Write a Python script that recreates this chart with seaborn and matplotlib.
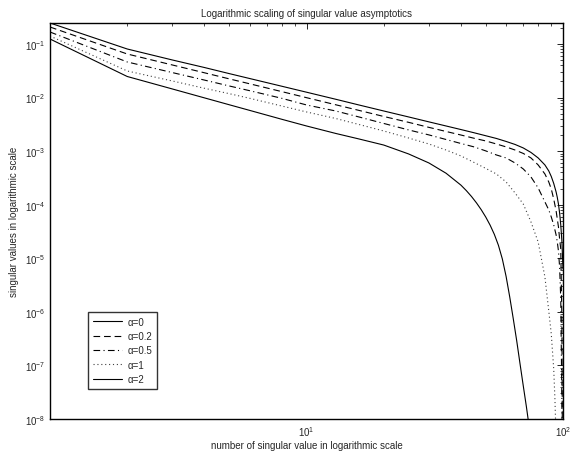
import numpy as np
import pandas as pd
import matplotlib
matplotlib.use("Agg")
import matplotlib.pyplot as plt
from matplotlib.ticker import NullFormatter, FixedLocator, FixedFormatter
import seaborn as sns

# ---- data ----
x_a0 = [1, 2, 3, 4, 5, 6, 8, 10, 13, 16, 20, 25, 30, 35, 40, 45, 50, 55, 60, 65, 70, 75,
        80, 85, 88, 90, 92, 94, 95, 96, 97, 98, 99, 100]
y_a0 = [0.2466, 0.0807, 0.0503, 0.0364, 0.0280, 0.0227, 0.0163, 0.0126, 0.0093, 0.00728,
        0.00562, 0.00435, 0.00352, 0.00295, 0.00253, 0.002204, 0.001938, 0.001725,
        0.001517, 0.001334, 0.001147, 0.000946, 0.000747, 0.000553, 0.000427, 0.000337,
        0.000250, 0.000173, 0.000137, 0.000103, 7.03e-5, 4.20e-5, 2.11e-5, 6.34e-6]

x_a02 = x_a0
y_a02 = [0.2076, 0.0651, 0.04058, 0.02902, 0.02233, 0.01809, 0.01294, 0.00996, 0.00734,
         0.00577, 0.00444, 0.00345, 0.00278, 0.00233, 0.00200, 0.00174, 0.00155, 0.00136,
         0.00120, 0.00105, 0.000906, 0.000747, 0.000553, 0.000375, 0.000266, 0.000197,
         0.000128, 7.66e-5, 5.43e-5, 3.85e-5, 2.30e-5, 1.50e-5, 7.4e-7, 4.5e-12]

x_a05 = x_a0
y_a05 = [0.1675, 0.0462, 0.02927, 0.02121, 0.01646, 0.01345, 0.00970, 0.00728, 0.00562,
         0.00435, 0.00329, 0.00249, 0.00201, 0.00165, 0.00139, 0.00120, 0.00101, 0.000849,
         0.000747, 0.000602, 0.000465, 0.000330, 0.000206, 0.000113, 8.0e-5, 5.92e-5,
         4.20e-5, 2.73e-5, 2.02e-5, 1.37e-5, 6.91e-6, 1.75e-6, 2.38e-8, 4.5e-12]

x_a1 = [1, 2, 3, 4, 5, 6, 8, 10, 13, 16, 20, 25, 30, 35, 40, 45, 50, 55, 60, 65, 70, 75,
        80, 85, 88, 90, 92, 93, 94, 95]
y_a1 = [0.1410, 0.03135, 0.02040, 0.01491, 0.01182, 0.00970, 0.00697, 0.00539, 0.00407,
        0.00315, 0.00238, 0.00176, 0.00136, 0.00105, 0.000814, 0.000615, 0.000476,
        0.000375, 0.000266, 0.000166, 0.000103, 4.78e-5, 2.02e-5, 4.50e-6, 1.04e-6,
        3.89e-7, 8.64e-8, 2.38e-8, 4.27e-9, 1.37e-10]

x_a2 = [1, 2, 3, 4, 5, 6, 8, 10, 13, 16, 20, 25, 30, 35, 40, 42, 44, 46, 48, 50, 52, 54,
        56, 58, 60, 62, 64, 66, 68, 70, 72, 74]
y_a2 = [0.1240, 0.02475, 0.01447, 0.00987, 0.00734, 0.00577, 0.00394, 0.00295, 0.00214,
        0.00169, 0.00130, 8.87e-4, 6.02e-4, 3.87e-4, 2.32e-4, 1.83e-4, 1.42e-4,
        1.08e-4, 8.06e-5, 5.87e-5, 4.14e-5, 2.79e-5, 1.75e-5, 9.74e-6, 4.59e-6, 1.89e-6,
        7.40e-7, 2.88e-7, 1.07e-7, 4.16e-8, 1.69e-8, 6.56e-9]

labels = ["α=0", "α=0.2", "α=0.5", "α=1", "α=2"]
series_x = [x_a0, x_a02, x_a05, x_a1, x_a2]
series_y = [y_a0, y_a02, y_a05, y_a1, y_a2]

xtick_vals = [10, 100]
xtick_labels = [r"$10^{1}$", r"$10^{2}$"]
ytick_vals = [1e-8, 1e-7, 1e-6, 1e-5, 1e-4, 1e-3, 1e-2, 1e-1]
ytick_labels = [r"$10^{-8}$", r"$10^{-7}$", r"$10^{-6}$", r"$10^{-5}$",
                r"$10^{-4}$", r"$10^{-3}$", r"$10^{-2}$", r"$10^{-1}$"]

title = "Logarithmic scaling of singular value asymptotics"
xlabel = "number of singular value in logarithmic scale"
ylabel = "singular values in logarithmic scale"

# ---- styling ----
sns.set_style("white")
plt.rcParams["font.family"] = ["Liberation Sans", "DejaVu Sans"]
plt.rcParams["font.size"] = 7
plt.rcParams["mathtext.fontset"] = "custom"
plt.rcParams["mathtext.rm"] = "Liberation Sans"
plt.rcParams["mathtext.it"] = "Liberation Sans"

styles = ["-", (0, (6, 3.5)), (0, (6, 3, 1, 3)), (0, (1, 2.5)), "-"]
colors = ["black", "black", "black", "0.25", "black"]

fig = plt.figure(figsize=(5.78, 4.56), dpi=100)
ax = fig.add_axes([50 / 578, 36 / 456, 513 / 578, 396 / 456])
ax.set_xscale("log")
ax.set_yscale("log")

for lab, xs, ys, ls, c in zip(labels, series_x, series_y, styles, colors):
    df = pd.DataFrame({"x": xs, "y": ys})
    sns.lineplot(data=df, x="x", y="y", ax=ax, color=c, linewidth=0.8,
                 linestyle=ls, label=lab, estimator=None, sort=False)

ax.set_xlim(1, 100)
ax.set_ylim(1e-8, 0.2466)
ax.xaxis.set_major_locator(FixedLocator(xtick_vals))
ax.xaxis.set_major_formatter(FixedFormatter(xtick_labels))
ax.yaxis.set_major_locator(FixedLocator(ytick_vals))
ax.yaxis.set_major_formatter(FixedFormatter(ytick_labels))
ax.xaxis.set_minor_formatter(NullFormatter())
ax.yaxis.set_minor_formatter(NullFormatter())

ax.set_title(title, fontsize=7, pad=5)
ax.set_xlabel(xlabel, fontsize=7, labelpad=2)
ax.set_ylabel(ylabel, fontsize=7, labelpad=4)

ax.tick_params(axis="both", which="both", direction="in", top=True, right=True,
               labelsize=7, color="black")
ax.tick_params(which="major", length=4, width=0.6)
ax.tick_params(which="minor", length=2, width=0.5)
for s in ax.spines.values():
    s.set_linewidth(1.0)
    s.set_color("black")

leg = ax.legend(loc="lower left", bbox_to_anchor=(0.074, 0.076), borderaxespad=0,
                fontsize=7, frameon=True, fancybox=False, edgecolor="black",
                handlelength=3.0, handletextpad=0.6, labelspacing=0.45,
                borderpad=0.5)
leg.get_frame().set_linewidth(1.0)

fig.savefig("out.png", dpi=100)
